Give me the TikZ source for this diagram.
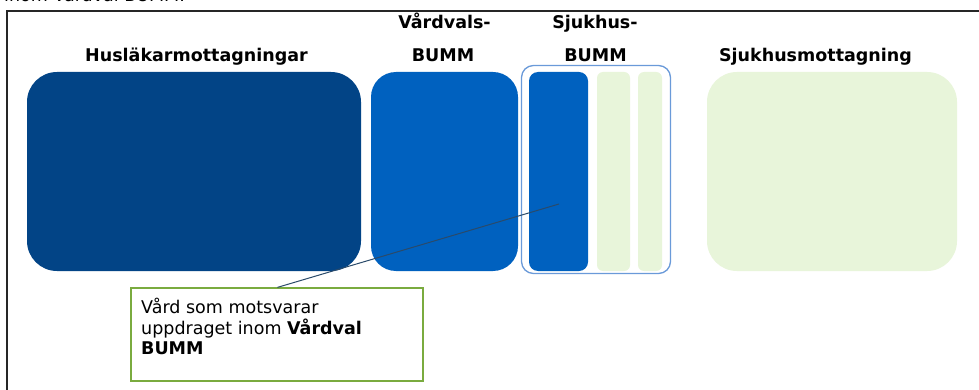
\documentclass[tikz,border=0pt]{standalone}
\usepackage{fontspec}
\setmainfont{DejaVu Sans}
\definecolor{navy}{HTML}{024486}
\definecolor{midblue}{HTML}{0061BF}
\definecolor{palegreen}{HTML}{E8F5DA}
\definecolor{outlineblue}{HTML}{6A9AD9}
\definecolor{callgreen}{HTML}{7AAB3F}
\definecolor{connblue}{HTML}{2A4A6A}
\begin{document}
\begin{tikzpicture}[x=1pt,y=-1pt,
  blk/.style={rectangle,inner sep=0pt,draw=none},
  ttl/.style={anchor=base,inner sep=0pt,font=\fontsize{17.5}{20}\selectfont\bfseries},
  framestyle/.style={line width=2pt,draw=black!85},
  conn/.style={line width=1pt,draw=connblue}]
\useasboundingbox (0,0) rectangle (979,390);
\fill[white] (0,0) rectangle (979,390);
\node[anchor=base west,inner sep=0pt,font=\fontsize{17.5}{20}\selectfont] (toptext) at (4,2) {inom Vårdval BUMM.};
\draw[framestyle] (7,391) |- (980,11);
% boxes
\node[blk,fill=navy,minimum width=334,minimum height=199,rounded corners=30pt] (hus) at (194,171.5) {};
\node[blk,fill=midblue,minimum width=147,minimum height=199,rounded corners=25pt] (vard) at (444.5,171.5) {};
\node[blk,draw=outlineblue,line width=1.3pt,minimum width=149,minimum height=208,rounded corners=12pt] (sjouter) at (596,169.5) {};
\node[blk,fill=midblue,minimum width=59,minimum height=199,rounded corners=9pt] (sjinner) at (558.5,171.5) {};
\node[blk,fill=palegreen,minimum width=33,minimum height=199,rounded corners=6pt] (gone) at (613.5,171.5) {};
\node[blk,fill=palegreen,minimum width=24,minimum height=199,rounded corners=6pt] (gtwo) at (650,171.5) {};
\node[blk,fill=palegreen,minimum width=250,minimum height=199,rounded corners=30pt] (sjm) at (832,171.5) {};
% titles
\node[ttl] (thus) at (196.5,62) {Husläkarmottagningar};
\node[ttl] (tvard) at (444.5,29) {Vårdvals-};
\node[ttl] (tvardb) at (443,62) {BUMM};
\node[ttl] (tsjuk) at (595,29) {Sjukhus-};
\node[ttl] (tsjukb) at (595.5,62) {BUMM};
\node[ttl] (tsjm) at (815.5,62) {Sjukhusmottagning};
% callout
\node[rectangle,draw=callgreen,line width=1.2pt,fill=white,minimum width=292,minimum height=93,inner sep=0pt] (callout) at (277,334.5) {};
\node[anchor=north west,inner sep=0pt,align=left,font=\fontsize{17.5}{20.5}\selectfont] (calltext) at (141,298) {Vård som motsvarar\\uppdraget inom \textbf{Vårdval}\\\textbf{BUMM}};
\coordinate (tip) at (559,204);
\draw[conn] ([xshift=147pt]callout.north west) -- (tip);
\end{tikzpicture}
\end{document}
